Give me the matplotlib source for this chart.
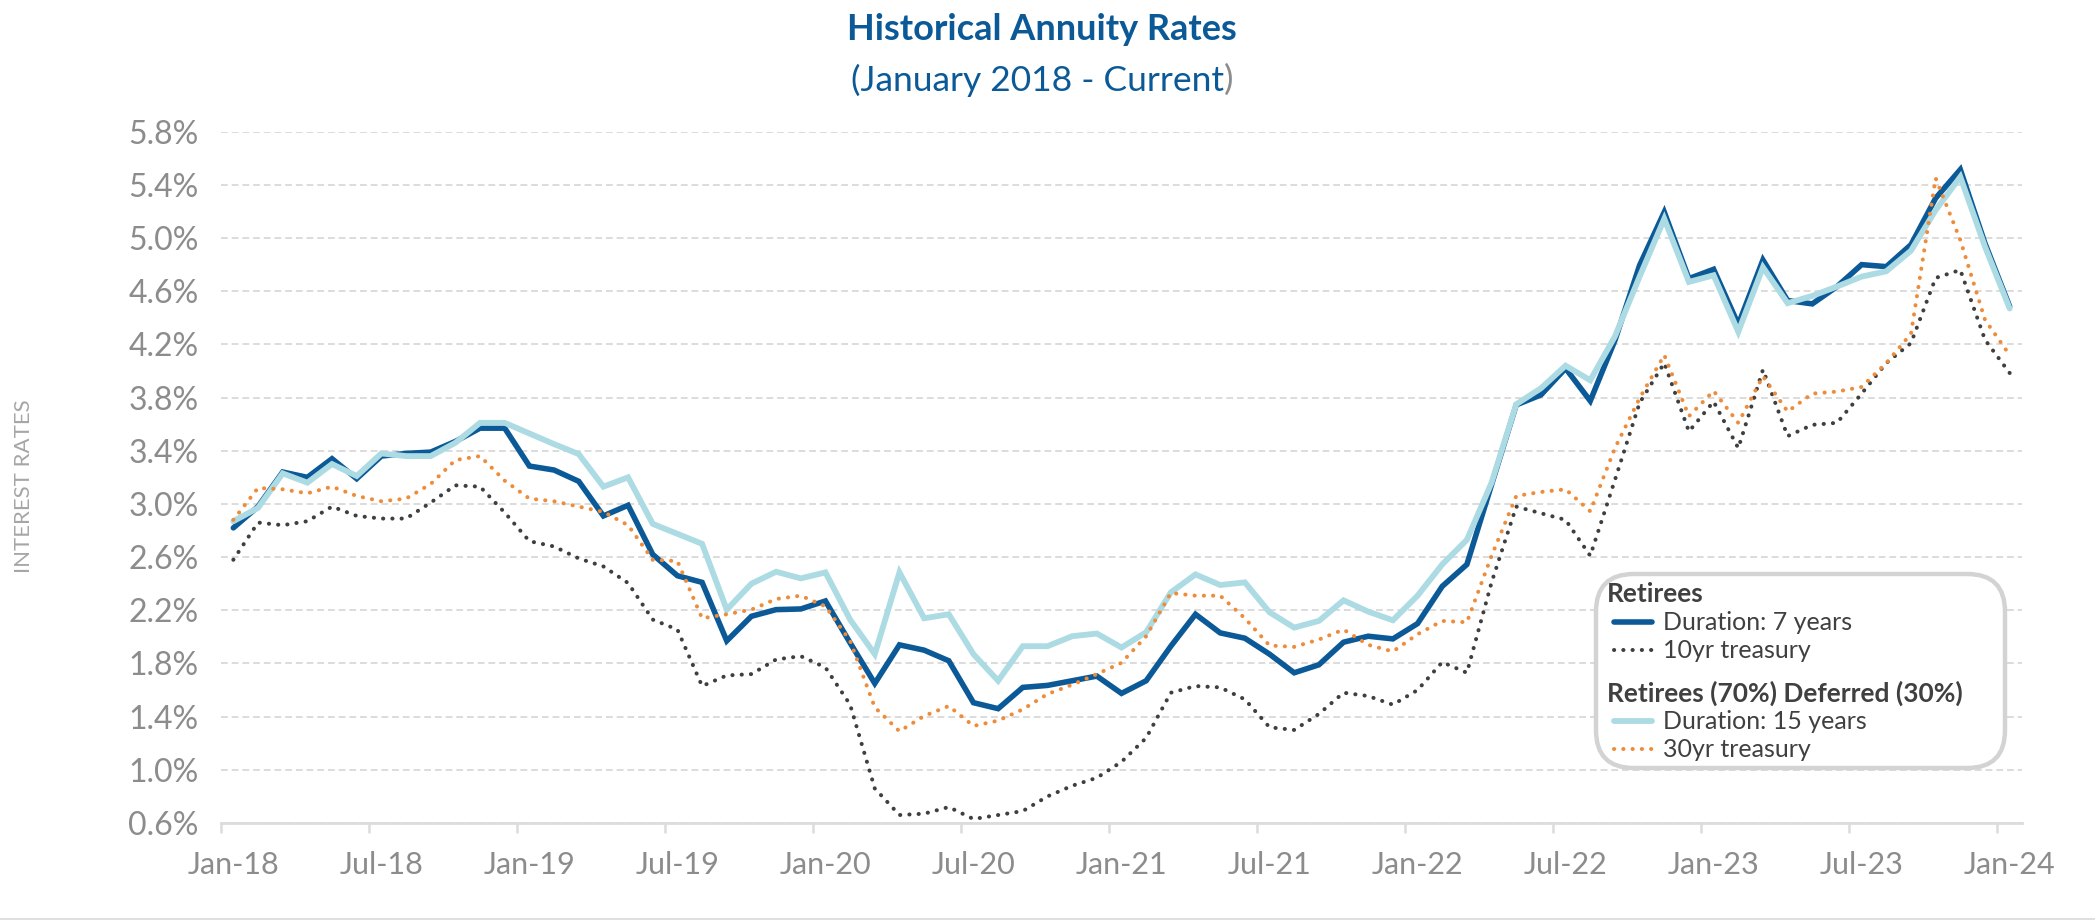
import matplotlib
matplotlib.use("Agg")
import matplotlib.pyplot as plt
from matplotlib.patches import FancyBboxPatch
from matplotlib.lines import Line2D
from matplotlib.ticker import FixedLocator, FuncFormatter
import numpy as np

# ---------------- data (monthly, Jan-2018 .. Jan-2024) ----------------
months = [f"{m}-{y}" for y in range(18, 25) for m in
          ["Jan", "Feb", "Mar", "Apr", "May", "Jun", "Jul", "Aug", "Sep", "Oct", "Nov", "Dec"]][:73]

dur7 = [2.82, 2.98, 3.24, 3.20, 3.34, 3.19, 3.36, 3.38, 3.39, 3.47, 3.57, 3.57,
        3.285, 3.255, 3.17, 2.91, 2.99, 2.62, 2.46, 2.41, 1.97, 2.155, 2.205, 2.21,
        2.27, 1.955, 1.65, 1.94, 1.90, 1.82, 1.505, 1.46, 1.62, 1.635, 1.67, 1.705,
        1.575, 1.67, 1.93, 2.17, 2.03, 1.99, 1.87, 1.73, 1.79, 1.96, 2.005, 1.985,
        2.10, 2.38, 2.545, 3.145, 3.745, 3.82, 4.02, 3.775, 4.23, 4.795, 5.195, 4.695,
        4.765, 4.35, 4.835, 4.53, 4.505, 4.635, 4.80, 4.785, 4.95, 5.30, 5.515, 4.96,
        4.485]

treas10 = [2.58, 2.86, 2.84, 2.87, 2.98, 2.91, 2.89, 2.89, 3.01, 3.14, 3.13, 2.935,
           2.72, 2.68, 2.59, 2.53, 2.405, 2.13, 2.055, 1.63, 1.71, 1.72, 1.83, 1.855,
           1.77, 1.49, 0.86, 0.66, 0.67, 0.72, 0.63, 0.66, 0.69, 0.80, 0.88, 0.94,
           1.06, 1.24, 1.58, 1.63, 1.62, 1.53, 1.32, 1.30, 1.42, 1.58, 1.555, 1.49,
           1.60, 1.81, 1.73, 2.41, 2.98, 2.93, 2.88, 2.61, 3.18, 3.76, 4.06, 3.545,
           3.77, 3.42, 4.01, 3.51, 3.595, 3.61, 3.83, 4.06, 4.21, 4.70, 4.76, 4.235,
           3.985]

dur15 = [2.87, 2.97, 3.23, 3.16, 3.30, 3.21, 3.38, 3.36, 3.36, 3.46, 3.61, 3.61,
         3.53, 3.45, 3.375, 3.13, 3.20, 2.85, 2.775, 2.70, 2.205, 2.40, 2.49, 2.44,
         2.485, 2.13, 1.87, 2.485, 2.14, 2.17, 1.87, 1.67, 1.93, 1.93, 2.005, 2.025,
         1.92, 2.035, 2.335, 2.47, 2.39, 2.41, 2.185, 2.07, 2.12, 2.275, 2.19, 2.125,
         2.31, 2.545, 2.73, 3.16, 3.75, 3.87, 4.04, 3.93, 4.26, 4.71, 5.145, 4.67,
         4.72, 4.295, 4.78, 4.51, 4.565, 4.635, 4.71, 4.75, 4.905, 5.21, 5.46, 4.935,
         4.47]

treas30 = [2.88, 3.12, 3.11, 3.08, 3.13, 3.06, 3.02, 3.04, 3.15, 3.33, 3.36, 3.175,
           3.04, 3.02, 2.98, 2.94, 2.84, 2.58, 2.57, 2.14, 2.17, 2.205, 2.285, 2.31,
           2.23, 1.97, 1.47, 1.29, 1.405, 1.48, 1.33, 1.37, 1.455, 1.57, 1.64, 1.72,
           1.805, 2.005, 2.33, 2.31, 2.31, 2.14, 1.935, 1.925, 1.98, 2.055, 1.94, 1.89,
           2.02, 2.12, 2.11, 2.61, 3.06, 3.09, 3.11, 2.945, 3.42, 3.795, 4.12, 3.66,
           3.85, 3.61, 3.96, 3.695, 3.83, 3.845, 3.88, 4.06, 4.28, 5.45, 4.985, 4.385,
           4.12]

y_ticks = [0.6, 1.0, 1.4, 1.8, 2.2, 2.6, 3.0, 3.4, 3.8, 4.2, 4.6, 5.0, 5.4, 5.8]
x_label_step = 6

title = "Historical Annuity Rates"
subtitle = "(January 2018 - Current"
ylabel = "INTEREST RATES"
legend_groups = [("Retirees", [("Duration: 7 years", "dur7"), ("10yr treasury", "t10")]),
                 ("Retirees (70%) Deferred (30%)", [("Duration: 15 years", "dur15"), ("30yr treasury", "t30")])]

# ---------------- styling ----------------
C_D7 = "#0b5a97"
C_D15 = "#acdbe3"
C_T10 = "#3f3f3f"
C_T30 = "#ee8c3a"
C_TITLE = "#0b5a97"
C_TICK = "#8c8c8c"
C_GRID = "#dcdcdc"
FONT = "Lato"

W, H = 2095, 922
fig = plt.figure(figsize=(W / 100, H / 100), dpi=100)
fx = lambda px: px / W
fy = lambda py: 1 - py / H

ax = fig.add_axes([fx(221), fy(823), fx(2022) - fx(221), fy(131.7) - fy(823)])
x = np.arange(len(months))

DOT = (0, (0.05, 2.25))
styles = {
    "dur7": dict(color=C_D7, lw=4.0, ls="-", solid_capstyle="round", solid_joinstyle="miter"),
    "t10": dict(color=C_T10, lw=2.9, ls=DOT, dash_capstyle="round"),
    "dur15": dict(color=C_D15, lw=4.2, ls="-", solid_capstyle="round", solid_joinstyle="miter"),
    "t30": dict(color=C_T30, lw=2.9, ls=DOT, dash_capstyle="round"),
}
ax.plot(x, dur7, zorder=3, **styles["dur7"])
ax.plot(x, treas10, zorder=4, **styles["t10"])
ax.plot(x, dur15, zorder=5, **styles["dur15"])
ax.plot(x, treas30, zorder=6, **styles["t30"])

ax.set_xlim(-0.5, len(months) - 0.5)
ax.set_ylim(y_ticks[0], y_ticks[-1])
ax.set_yticks(y_ticks)
ax.yaxis.set_major_formatter(FuncFormatter(lambda v, p: f"{v:.1f}%"))
ax.set_xticks(x[::x_label_step])
ax.set_xticklabels(months[::x_label_step])
ax.xaxis.set_minor_locator(FixedLocator(np.arange(-0.5, len(months) - 1, x_label_step)))

for s in ["left", "right", "top"]:
    ax.spines[s].set_visible(False)
ax.spines["bottom"].set_color(C_GRID)
ax.spines["bottom"].set_linewidth(2)

ax.grid(axis="y", color=C_GRID, lw=1.4, ls=(0, (3.5, 2)))
ax.grid(axis="x", visible=False)
ax.set_axisbelow(True)

ax.tick_params(axis="y", length=0, pad=16, labelsize=23, labelcolor=C_TICK)
ax.tick_params(axis="x", which="major", length=0, pad=20, labelsize=22, labelcolor=C_TICK)
ax.tick_params(axis="x", which="minor", length=7, width=1.8, color=C_GRID)
for lab in ax.get_xticklabels() + ax.get_yticklabels():
    lab.set_fontfamily(FONT)

# y axis label
fig.text(fx(24), fy(486), ylabel, rotation=90, ha="center", va="center",
         fontsize=16, color="#a6a6a6", family=FONT)

# titles
fig.text(fx(1042), fy(29), title, ha="center", va="center", fontsize=26,
         fontweight="bold", color=C_TITLE, family=FONT)
st = fig.text(fx(1042), fy(80), subtitle + ")", ha="center", va="center", fontsize=25.5,
              color=C_TITLE, family=FONT)
fig.canvas.draw()
r = fig.canvas.get_renderer()
bb = st.get_window_extent(r)
st.set_text(subtitle)
st.set_ha("left")
st.set_x(bb.x0 / W)
fig.canvas.draw()
bb2 = st.get_window_extent(r)
fig.text(bb2.x1 / W, fy(80), ")", ha="left", va="center", fontsize=25.5,
         color="#8c8c8c", family=FONT)

# legend box (drawn by hand)
box = FancyBboxPatch((fx(1596), fy(768)), fx(2005) - fx(1596), fy(574) - fy(768),
                     boxstyle="round,pad=0,rounding_size=0.018",
                     transform=fig.transFigure, facecolor="white",
                     edgecolor="#d3d3d3", lw=3.2, zorder=10, mutation_aspect=W / H)
fig.patches.append(box)

rows_y = [594, 622, 650, 693, 721, 749]
i = 0
for header, entries in legend_groups:
    fig.text(fx(1607), fy(rows_y[i]), header, ha="left", va="center", fontsize=19,
             fontweight="bold", color="#404040", family=FONT, zorder=11)
    i += 1
    for lab, key in entries:
        st_ = dict(styles[key])
        lw = st_.pop("lw")
        ln = Line2D([fx(1614), fx(1652)], [fy(rows_y[i])] * 2, transform=fig.transFigure,
                    lw=lw, zorder=11, **st_)
        fig.lines.append(ln)
        fig.text(fx(1663), fy(rows_y[i]), lab, ha="left", va="center", fontsize=18,
                 color="#404040", family=FONT, zorder=11)
        i += 1

# thin line at bottom of the figure
fig.lines.append(Line2D([0, 1], [fy(919), fy(919)], transform=fig.transFigure,
                        color="#d9d9d9", lw=1.2))

fig.savefig("out.png", dpi=100)
